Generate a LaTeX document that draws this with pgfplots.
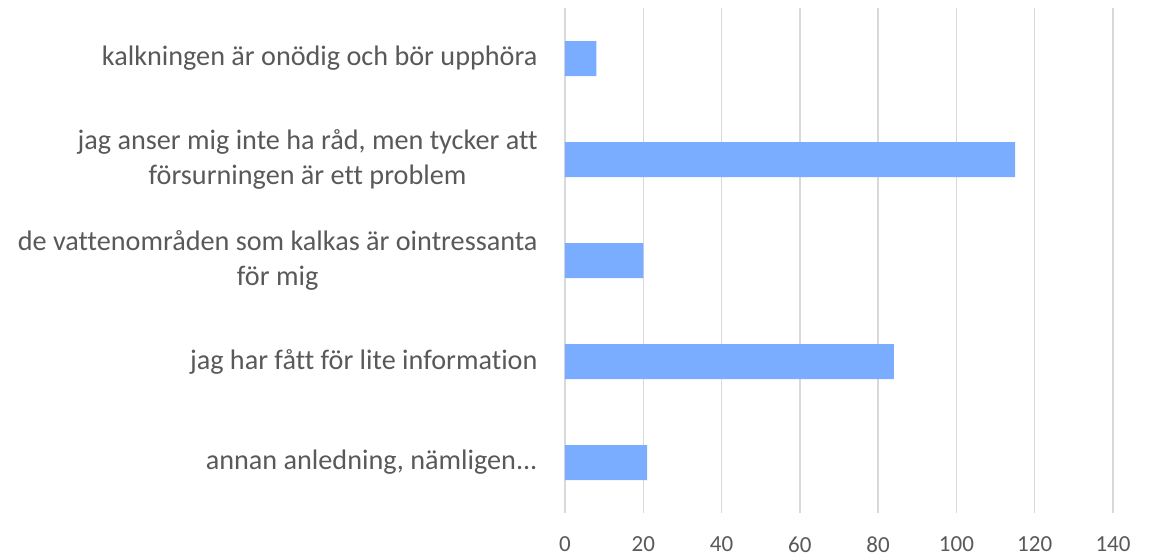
\documentclass[border=0pt]{standalone}
\usepackage{pgfplots}
\pgfplotsset{compat=1.18}
\usepackage{fontspec}
\setmainfont{Carlito}[Ligatures={NoCommon}]
\definecolor{barblue}{HTML}{7AADFF}
\definecolor{txtgray}{HTML}{595959}
\definecolor{gridgray}{HTML}{D9D9D9}
\newcommand\annan{annan anledning, nämligen.\kern0pt.\kern0pt.}
\begin{document}
\begin{tikzpicture}[x=1pt,y=1pt]
\useasboundingbox (0,0) rectangle (1160,558);
\begin{axis}[
  at={(565pt,45pt)}, anchor=south west,
  scale only axis, width=548pt, height=505pt,
  xbar, bar width=35pt,
  xmin=0, xmax=140, xtick={0,20,40,60,80,100,120,140},
  ymin=-0.5, ymax=4.5, y dir=reverse,
  ytick={0,1,2,3,4},
  yticklabels={{kalkningen är onödig och bör upphöra},{jag anser mig inte ha råd, men tycker att\\försurningen är ett problem},{de vattenområden som kalkas är ointressanta\\för mig},{jag har fått för lite information},\annan},
  axis line style={draw=none},
  major tick length=0pt,
  xmajorgrids, grid style={gridgray, line width=1.5pt},
  tick label style={text=txtgray},
  yticklabel style={font=\fontsize{28.2}{35}\selectfont, align=center, xshift=-24pt},
  xticklabel style={font=\fontsize{23}{28}\selectfont, yshift=-20pt},
  /pgf/number format/assume math mode=true,
]
\addplot[fill=barblue, draw=none] coordinates {(8,0) (115,1) (20,2) (84,3) (21,4)};
\end{axis}
\end{tikzpicture}
\end{document}
